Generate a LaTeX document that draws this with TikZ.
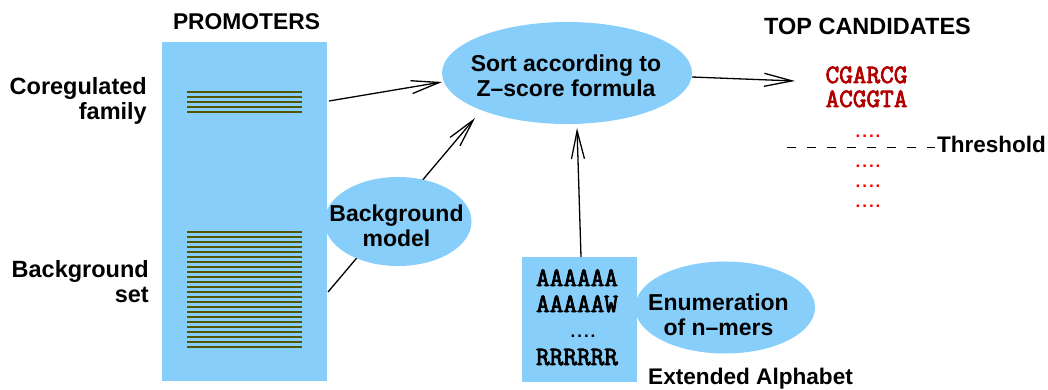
\documentclass[tikz,border=0pt]{standalone}
\usepackage{fontspec}
\setmainfont{Liberation Sans}
\newfontfamily\monob{Latin Modern Mono}[FakeBold=3]
\usetikzlibrary{arrows.meta,shapes.geometric}
\definecolor{sky}{RGB}{135,206,250}
\definecolor{stripe}{RGB}{85,85,0}
\definecolor{cand}{RGB}{178,0,0}
\newcommand{\fourdots}{.\kern2pt.\kern2pt.\kern2pt.}
\begin{document}
\begin{tikzpicture}[x=1pt,y=-1pt,
  lbl/.style={font=\fontsize{23}{25}\selectfont\bfseries, inner sep=0pt, align=center},
  side/.style={font=\fontsize{23.5}{25}\selectfont\bfseries, inner sep=0pt, align=right, anchor=east},
  title/.style={font=\fontsize{23}{25}\selectfont\bfseries, inner sep=0pt, anchor=base},
  seq/.style={font=\fontsize{26.5}{27}\selectfont\monob, inner sep=0pt, anchor=base},
  dots/.style={font=\fontsize{17}{18}\selectfont\bfseries, inner sep=0pt, anchor=base},
  blob/.style={ellipse, fill=sky, inner sep=0pt},
  panel/.style={rectangle, fill=sky, inner sep=0pt},
  arr/.style={-{Straight Barb[length=28pt,width=13pt]}, line width=1.3pt},
  stripeline/.style={draw=stripe, line width=1.4pt}
]
\useasboundingbox (0,0) rectangle (1048,389);

% titles
\node[title, font=\fontsize{22.8}{25}\selectfont\bfseries] (ptitle) at (246.5,29) {PROMOTERS};
\node[title, font=\fontsize{23.5}{25}\selectfont\bfseries] (ttitle) at (867.5,34) {TOP CANDIDATES};

% sort ellipse
\node[blob, minimum width=250pt, minimum height=102pt] (sortE) at (567,73) {};
\node[lbl] (sortT) at (566,76) {Sort according to\\Z--score formula};

% arrow from background set through background model (line behind the ellipse)
\coordinate (a2s) at (328,292);
\coordinate (a2e) at (475,118);
\draw[arr] (a2s) -- (a2e);

% background model ellipse
\node[blob, minimum width=147pt, minimum height=89pt] (bgE) at (398,221.5) {};
\node[lbl] (bgT) at (396.5,225.5) {Background\\model};

% promoters panel
\node[panel, minimum width=165pt, minimum height=339pt] (prom) at (244.5,211.5) {};
\foreach \i in {0,...,4} \draw[stripeline] (187,{92+5*\i}) -- (302,{92+5*\i});
\foreach \i in {0,...,23} \draw[stripeline] (187,{232+5*\i}) -- (302,{232+5*\i});

% side labels
\node[side] (coreg) at (147,101) {Coregulated\\family};
\node[side] (bgset) at (149,282) {Background\\set};

% arrow from coregulated family to sort
\coordinate (a1s) at (329,101);
\coordinate (a1e) at (442,82);
\draw[arr] (a1s) -- (a1e);

% enumeration
\node[blob, minimum width=180pt, minimum height=92pt] (enumE) at (725,307.5) {};
\node[lbl] (enumT) at (718.5,314.75) {Enumeration\\of n--mers};
\node[panel, minimum width=115pt, minimum height=125pt] (box) at (579.5,319.5) {};
\node[seq] (s1) at (577,286) {AAAAAA};
\node[seq] (s2) at (577,312) {AAAAAW};
\node[dots] (s3) at (583,337) {\fourdots};
\node[seq] (s4) at (577,365) {RRRRRR};
\node[title, anchor=base west, font=\fontsize{22.6}{25}\selectfont\bfseries] (ext) at (648,384) {Extended Alphabet};

% arrow from enumeration box to sort
\coordinate (a3s) at (581,257);
\coordinate (a3e) at (577,128);
\draw[arr] (a3s) -- (a3e);

% arrow to candidates
\coordinate (a4s) at (692,77);
\coordinate (a4e) at (795,81);
\draw[arr] (a4s) -- (a4e);

% candidates
\node[seq, text=cand] (c1) at (866.5,83) {CGARCG};
\node[seq, text=cand] (c2) at (866.5,107) {ACGGTA};
\node[dots, text=red] (d1) at (868,137) {\fourdots};
\node[dots, text=red] (d2) at (868,167) {\fourdots};
\node[dots, text=red] (d3) at (868,187) {\fourdots};
\node[dots, text=red] (d4) at (868,207) {\fourdots};

% threshold
\coordinate (th1) at (787,147);
\coordinate (th2) at (935,147);
\draw[dash pattern=on 9pt off 11pt, line width=1pt] (th1) -- (th2);
\node[title, anchor=base west, font=\fontsize{22.5}{25}\selectfont\bfseries] (thr) at (937,152) {Threshold};
\end{tikzpicture}
\end{document}
